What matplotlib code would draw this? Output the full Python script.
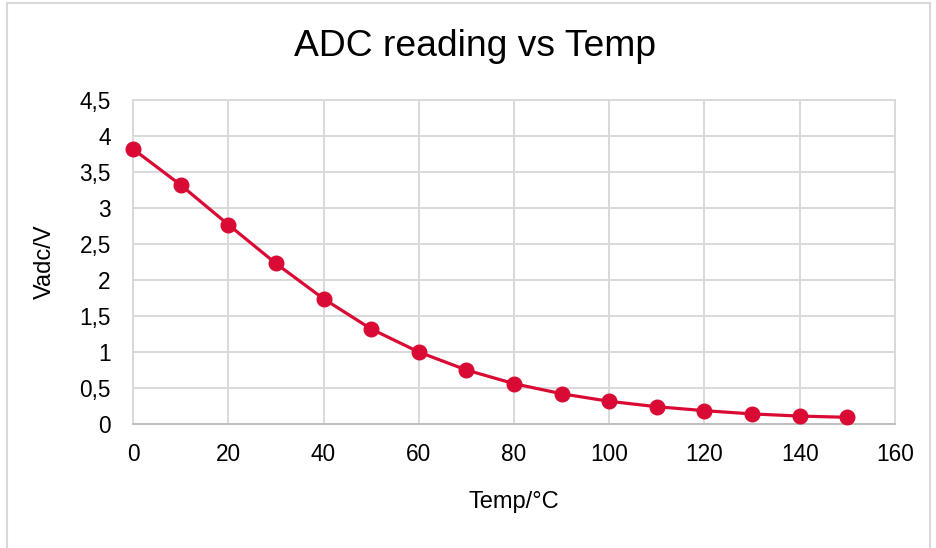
import matplotlib
matplotlib.use("Agg")
import matplotlib.pyplot as plt
from matplotlib.patches import Rectangle
from matplotlib.ticker import FuncFormatter, MultipleLocator

plt.rcParams['font.family'] = ['Liberation Sans', 'DejaVu Sans']

temps = [0, 10, 20, 30, 40, 50, 60, 70, 80, 90, 100, 110, 120, 130, 140, 150]
vadc = [3.82, 3.32, 2.77, 2.23, 1.74, 1.32, 1.00, 0.75, 0.56, 0.42, 0.315,
        0.24, 0.185, 0.14, 0.11, 0.093]

title = "ADC reading vs Temp"
xlabel = "Temp/°C"
ylabel = "Vadc/V"
color = "#D90B34"

W, H = 936, 548
fig = plt.figure(figsize=(W / 100, H / 100), dpi=100)
fig.patch.set_facecolor("white")

# outer chart border
fig.add_artist(Rectangle((7 / W, -0.01), (930 - 7) / W, (H - 3) / H + 0.01,
                         transform=fig.transFigure, fill=False,
                         edgecolor="#d9d9d9", linewidth=1.5))

left, right, top, bottom = 133, 895, 100, 424
ax = fig.add_axes([left / W, 1 - bottom / H, (right - left) / W, (bottom - top) / H])

ax.plot(temps, vadc, color=color, linewidth=2.3, marker="o", markersize=10.5,
        markerfacecolor=color, markeredgecolor=color, clip_on=False, zorder=3)

ax.set_xlim(0, 160)
ax.set_ylim(0, 4.5)
ax.xaxis.set_major_locator(MultipleLocator(20))
ax.yaxis.set_major_locator(MultipleLocator(0.5))

def fmt(v, pos):
    s = ("%g" % round(v, 2))
    return s.replace(".", ",")

ax.yaxis.set_major_formatter(FuncFormatter(fmt))
ax.xaxis.set_major_formatter(FuncFormatter(fmt))

ax.grid(True, color="#d9d9d9", linewidth=1.4, zorder=0)
ax.set_axisbelow(True)
for s in ["top", "left", "right"]:
    ax.spines[s].set_color("#d9d9d9")
    ax.spines[s].set_linewidth(1.4)
ax.spines["bottom"].set_color("#bfbfbf")
ax.spines["bottom"].set_linewidth(1.4)

ax.tick_params(axis="both", length=0, labelsize=16.3, colors="black")
ax.tick_params(axis="y", pad=16)
ax.tick_params(axis="x", pad=14)

ax.set_xlabel(xlabel, fontsize=17, labelpad=18)
ax.set_ylabel(ylabel, fontsize=17, labelpad=17)

fig.text(0.5 + 0.008, 1 - 47 / H, title, fontsize=26.8, ha="center", va="center")

fig.savefig("out.png", dpi=100, facecolor="white")
